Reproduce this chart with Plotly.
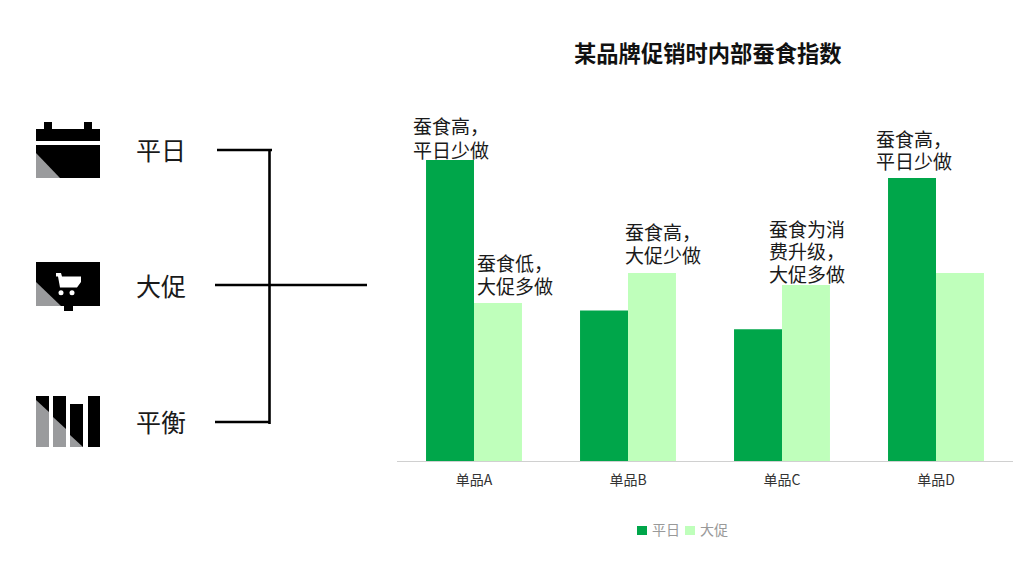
import plotly.graph_objects as go

W, H = 1022, 563
FONT = "Noto Sans CJK SC"

categories = ["单品A", "单品B", "单品C", "单品D"]
weekday = [100, 50, 43.8, 94]
promo = [52.5, 62.5, 58.5, 62.5]
series_names = ["平日", "大促"]
title = "某品牌促销时内部蚕食指数"
side_labels = ["平日", "大促", "平衡"]
notes = [
    ["蚕食高，", "平日少做"],
    ["蚕食低，", "大促多做"],
    ["蚕食高，", "大促少做"],
    ["蚕食为消", "费升级，", "大促多做"],
    ["蚕食高，", "平日少做"],
]

GREEN, LIGHT = "#00A64A", "#BFFFBB"
BLACK, GREY = "#000000", "#9A9B9D"


def px(x):
    return x / W


def py(y):
    return 1 - y / H


def poly(points, fill):
    d = "M" + " L".join(f"{px(x):.5f},{py(y):.5f}" for x, y in points) + " Z"
    return dict(type="path", xref="paper", yref="paper", path=d,
                fillcolor=fill, line=dict(width=0), layer="above")


def rect(x0, y0, x1, y1, fill):
    return poly([(x0, y0), (x1, y0), (x1, y1), (x0, y1)], fill)


def line(x0, y0, x1, y1, width=2.6):
    return dict(type="line", xref="paper", yref="paper", x0=px(x0), x1=px(x1),
                y0=py(y0), y1=py(y1), line=dict(color=BLACK, width=width))


def circle(cx, cy, r, fill):
    return dict(type="circle", xref="paper", yref="paper",
                x0=px(cx - r), x1=px(cx + r), y0=py(cy - r), y1=py(cy + r),
                fillcolor=fill, line=dict(width=0), layer="above")


def label(text, x, y, size, color="#1a1a1a", anchor="left", bold=False):
    return dict(text=f"<b>{text}</b>" if bold else text, xref="paper", yref="paper",
                x=px(x), y=py(y), xanchor=anchor, yanchor="middle", showarrow=False,
                borderpad=0, borderwidth=0,
                font=dict(family=FONT, size=size, color=color))


fig = go.Figure()
fig.add_bar(name=series_names[0], x=categories, y=weekday, marker_color=GREEN, marker_line_width=0)
fig.add_bar(name=series_names[1], x=categories, y=promo, marker_color=LIGHT, marker_line_width=0)

shapes = [
    # calendar icon
    rect(36, 129, 100, 141, BLACK), rect(44, 122, 52, 130, BLACK), rect(84, 122, 92, 130, BLACK),
    rect(36, 145, 100, 178, BLACK), poly([(36, 153), (60, 178), (36, 178)], GREY),
    # cart icon
    rect(36, 262, 100, 306, BLACK), rect(64, 305, 73, 311, BLACK),
    poly([(36, 282), (61, 306), (36, 306)], GREY),
    poly([(56, 273), (61, 273), (62, 276.5), (81, 276.5), (81, 282), (77, 287.5), (60, 287.5), (58, 276.5), (56, 276.5)], "#FFFFFF"),
    circle(61, 292.7, 2.5, "#FFFFFF"), circle(72, 292.7, 2.5, "#FFFFFF"),
    # bars icon
    rect(36, 396, 49, 447, BLACK), poly([(36, 400), (49, 412), (49, 447), (36, 447)], GREY),
    rect(53, 396, 66, 447, BLACK), poly([(53, 417), (66, 429), (66, 447), (53, 447)], GREY),
    rect(70, 404, 83, 447, BLACK), poly([(70, 435), (83, 447), (70, 447)], GREY),
    rect(88, 396, 100, 447, BLACK),
    # bracket
    line(217, 150, 272, 150), line(269.5, 149, 269.5, 424),
    line(215, 285, 367, 285), line(215, 422, 270, 422),
    # legend swatches
    rect(637, 526, 647, 535, GREEN), rect(685, 526, 695, 535, LIGHT),
]

annotations = [
    label(title, 707.5, 52, 22.3, "#111111", "center", True),
    label(side_labels[0], 136, 149, 25),
    label(side_labels[1], 136, 285, 25),
    label(side_labels[2], 136, 421, 25),
    label(series_names[0], 652, 529, 14, "#999999"),
    label(series_names[1], 700, 529, 14, "#999999"),
]
note_pos = [(413, [126, 149]), (477, [262, 285]), (625, [231, 254]),
            (769, [228, 250, 273]), (876, [138, 160])]
for lines, (x, ys) in zip(notes, note_pos):
    annotations += [label(t, x, y, 19) for t, y in zip(lines, ys)]

fig.update_layout(
    width=W, height=H, margin=dict(l=0, r=0, t=0, b=0),
    paper_bgcolor="#FFFFFF", plot_bgcolor="#FFFFFF",
    barmode="group", bargap=0.377, bargroupgap=0, showlegend=False,
    font=dict(family=FONT, size=14, color="#333333"),
    shapes=shapes, annotations=annotations,
    xaxis=dict(domain=[397 / W, 1013 / W], showgrid=False, zeroline=False,
               showline=True, linecolor="#D0D0D0", linewidth=1,
               ticks="outside", ticklen=6, tickcolor="rgba(0,0,0,0)",
               tickfont=dict(family=FONT, size=14, color="#333333")),
    yaxis=dict(domain=[py(461), py(100)], range=[0, 361 / 3.01], visible=False),
)
fig.write_html("out.html", config=dict(displayModeBar=False),
               post_script="document.body.style.margin='0';document.documentElement.style.overflow='hidden';")
